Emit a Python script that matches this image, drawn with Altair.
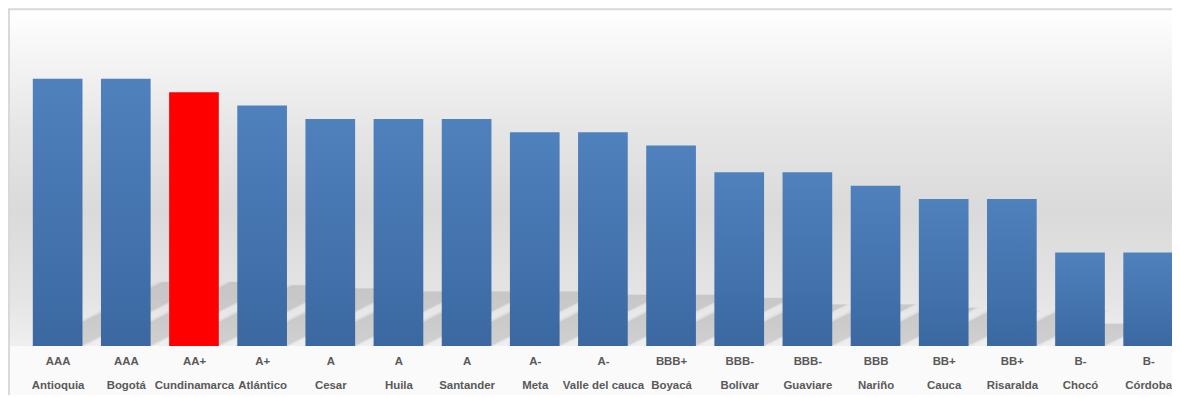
import altair as alt
import pandas as pd

ratings = ["AAA", "AAA", "AA+", "A+", "A", "A", "A", "A-", "A-", "BBB+",
           "BBB-", "BBB-", "BBB", "BB+", "BB+", "B-", "B-"]
names = ["Antioquia", "Bogotá", "Cundinamarca", "Atlántico", "Cesar", "Huila",
         "Santander", "Meta", "Valle del cauca", "Boyacá", "Bolívar", "Guaviare",
         "Nariño", "Cauca", "Risaralda", "Chocó", "Córdoba"]
values = [20, 20, 19, 18, 17, 17, 17, 16, 16, 15, 13, 13, 12, 11, 11, 7, 7]
highlight = "Cundinamarca"

N = len(names)
df = pd.DataFrame({"rating": ratings, "name": names, "value": values, "i": range(N)})

W, H = 1172, 339
RANGE = 1198
P_IN, P_OUT = 0.271, 0.364
HW = (1 - P_IN) / 2                # half bar width in step units
U0 = P_OUT + HW                    # first bar centre in step units
U_TOTAL = N - P_IN + 2 * P_OUT     # range length in step units
YMAX = 25.2

xscale = alt.Scale(domain=[-U0, U_TOTAL - U0], range=[0, RANGE], nice=False, zero=False)
yscale = alt.Scale(domain=[0, YMAX], nice=False, zero=True)

label_list = "[" + ",".join(f"'{r}|{n}'" for r, n in zip(ratings, names)) + "]"
xaxis = alt.Axis(
    title=None, values=list(range(N)),
    labelExpr=f"split({label_list}[datum.value], '|')", labelAngle=0,
    labelFont="Liberation Sans", labelFontWeight="bold", labelFontSize=11.5,
    labelColor="#595959", labelLineHeight=24, labelPadding=10, labelBaseline="top",
    labelOverlap=False, labelLimit=300, labelFlush=False,
    ticks=False, tickSize=0, domain=False, grid=False,
)

bg_grad = alt.LinearGradient(
    gradient="linear", x1=0, y1=0, x2=0, y2=1,
    stops=[
        alt.GradientStop(offset=0, color="#ffffff"),
        alt.GradientStop(offset=0.35, color="#e6e6e6"),
        alt.GradientStop(offset=0.6, color="#dadada"),
        alt.GradientStop(offset=0.85, color="#e4e4e4"),
        alt.GradientStop(offset=1, color="#efefef"),
    ],
)
bar_grad = alt.LinearGradient(
    gradient="linear", x1=0, y1=0, x2=0, y2=1,
    stops=[
        alt.GradientStop(offset=0, color="#4f81bd"),
        alt.GradientStop(offset=1, color="#3b68a1"),
    ],
)

one = pd.DataFrame({"a": [0]})
background = alt.Chart(one).mark_rect(color=bg_grad).encode(
    x=alt.value(0), x2=alt.value(W), y=alt.value(0), y2=alt.value(H)
)

# perspective shadow: each bar sheared to the upper right, squashed in height
SH_RATIO = 0.24
step_px = RANGE / U_TOTAL
D_PER_VALUE = 2 * SH_RATIO * (H / YMAX) / step_px


def shadow_table(grow):
    rows = []
    for i, (nm, v) in enumerate(zip(names, values)):
        hw = HW + grow
        sh = SH_RATIO * v + grow * 0.6
        d = D_PER_VALUE * v
        xs = sorted([i - hw, i + hw, i - hw + d, i + hw + d])
        for x in xs:
            top = min(sh, sh * (x - (i - hw)) / d)
            bot = max(0.0, sh * (x - (i + hw)) / d)
            rows.append({"name": nm, "px": x, "top": top, "bot": bot})
    return pd.DataFrame(rows)


def shadow_layer(opacity, grow):
    return alt.Chart(shadow_table(grow)).mark_area(
        clip=True, color="#000000", opacity=opacity, interpolate="linear"
    ).encode(
        x=alt.X("px:Q", scale=xscale, axis=xaxis),
        y=alt.Y("top:Q", scale=yscale, axis=None),
        y2=alt.Y2("bot"),
        detail="name:N",
    )


shadows = [shadow_layer(0.04, 0.04), shadow_layer(0.09, -0.015)]

bars = alt.Chart(df).transform_calculate(
    xl=f"datum.i - {HW:.4f}", xr=f"datum.i + {HW:.4f}", zero="0"
).mark_rect().encode(
    x=alt.X("xl:Q", scale=xscale, axis=xaxis),
    x2=alt.X2("xr"),
    y=alt.Y("value:Q", scale=yscale, axis=None),
    y2=alt.Y2("zero"),
    color=alt.condition(alt.datum.name == highlight, alt.value("#ff0000"), alt.value(bar_grad)),
)

border_left = alt.Chart(one).mark_rule(color="#d9d9d9", strokeWidth=2).encode(
    x=alt.value(1), y=alt.value(0), y2=alt.value(H + 60)
)
border_top = alt.Chart(one).mark_rule(color="#d9d9d9", strokeWidth=2).encode(
    x=alt.value(0), x2=alt.value(W), y=alt.value(0)
)

chart = alt.layer(background, *shadows, bars, border_left, border_top).properties(
    width=W, height=H,
    autosize=alt.AutoSizeParams(type="none"),
    padding={"left": 0, "top": 0, "right": 0, "bottom": 48},
    background="#fafafa",
).configure_view(stroke=None)

chart.save("out.html", embed_options={"renderer": "svg", "actions": False})
